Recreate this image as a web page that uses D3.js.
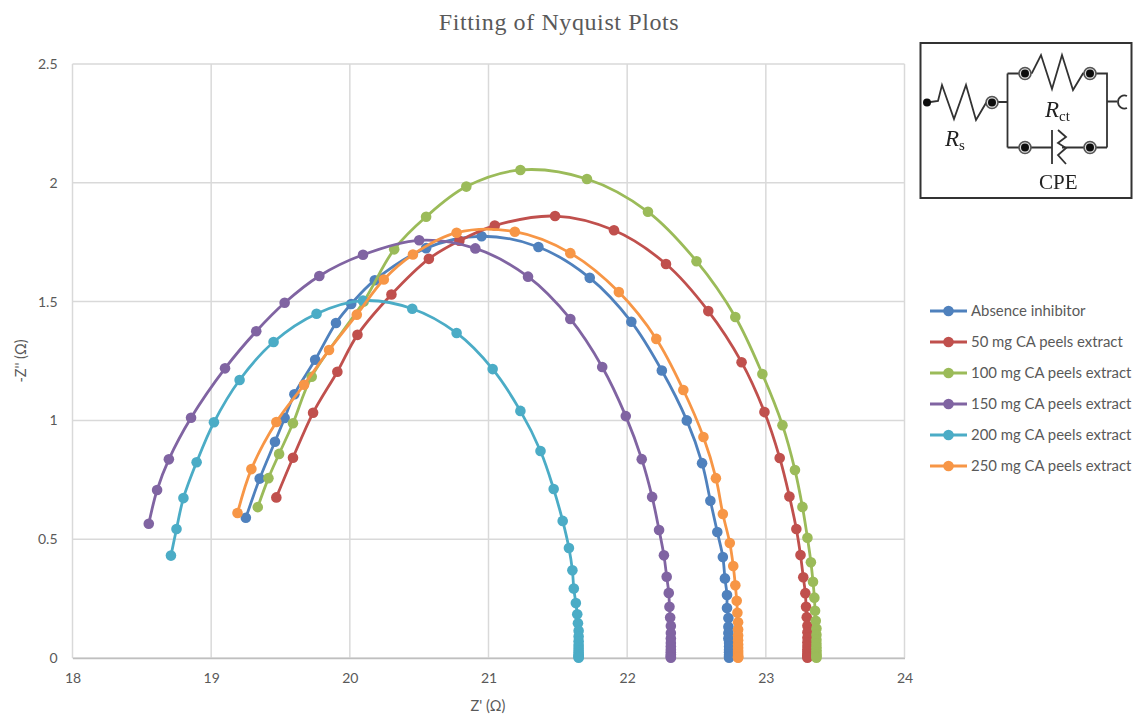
<!DOCTYPE html>
<html>
<head>
<meta charset="utf-8">
<script src="https://cdn.jsdelivr.net/npm/d3@7"></script>
<style>
	html, body { margin: 0; padding: 0; background: #fff; }
	svg { display: block; }
	text { font-family: Lato, sans-serif; fill: #595959; }
</style>
</head>
<body>
<svg id="chart" width="1133" height="715"></svg>
<script>
// values
const seriesNames = ['Absence inhibitor', '50 mg CA peels extract', '100 mg CA peels extract',
	'150 mg CA peels extract', '200 mg CA peels extract', '250 mg CA peels extract']
const seriesColors = ['#4f81bd', '#c0504d', '#9bbb59', '#8064a2', '#4bacc6', '#f79646']

const absenceX = [19.25, 19.35, 19.46, 19.53, 19.60, 19.75, 19.90, 20.01, 20.18, 20.55, 20.95, 21.36, 21.73, 22.03, 22.25, 22.43, 22.54, 22.60, 22.65, 22.69, 22.705, 22.72, 22.72, 22.73, 22.73, 22.73, 22.73, 22.735, 22.735, 22.735, 22.735, 22.735, 22.735, 22.735]
const absenceY = [0.59, 0.755, 0.91, 1.01, 1.11, 1.255, 1.41, 1.49, 1.59, 1.725, 1.775, 1.73, 1.60, 1.415, 1.21, 1.0, 0.82, 0.662, 0.53, 0.425, 0.335, 0.265, 0.21, 0.168, 0.132, 0.105, 0.082, 0.063, 0.048, 0.035, 0.024, 0.014, 0.006, 0.001]
const mg50X = [19.47, 19.59, 19.735, 19.91, 20.055, 20.30, 20.57, 20.79, 21.045, 21.48, 21.905, 22.28, 22.585, 22.825, 22.99, 23.10, 23.17, 23.22, 23.25, 23.27, 23.285, 23.29, 23.295, 23.30, 23.30, 23.30, 23.30, 23.30, 23.30, 23.30, 23.30, 23.30, 23.30, 23.30]
const mg50Y = [0.676, 0.843, 1.032, 1.205, 1.36, 1.53, 1.68, 1.756, 1.82, 1.86, 1.80, 1.658, 1.46, 1.245, 1.035, 0.842, 0.68, 0.543, 0.433, 0.34, 0.273, 0.216, 0.172, 0.136, 0.108, 0.085, 0.066, 0.05, 0.037, 0.026, 0.017, 0.01, 0.005, 0.001]
const mg100X = [19.336, 19.413, 19.49, 19.59, 19.725, 20.10, 20.32, 20.55, 20.84, 21.23, 21.71, 22.15, 22.50, 22.78, 22.975, 23.12, 23.21, 23.264, 23.30, 23.325, 23.34, 23.35, 23.355, 23.36, 23.365, 23.365, 23.365, 23.365, 23.365, 23.365, 23.365, 23.365, 23.365, 23.365]
const mg100Y = [0.635, 0.757, 0.859, 0.988, 1.184, 1.50, 1.72, 1.857, 1.984, 2.054, 2.016, 1.878, 1.67, 1.435, 1.195, 0.98, 0.791, 0.636, 0.506, 0.403, 0.321, 0.254, 0.199, 0.157, 0.124, 0.098, 0.077, 0.06, 0.045, 0.033, 0.022, 0.013, 0.006, 0.001]
const mg150X = [18.55, 18.61, 18.695, 18.855, 19.10, 19.325, 19.53, 19.78, 20.095, 20.50, 20.905, 21.285, 21.59, 21.82, 21.99, 22.105, 22.18, 22.23, 22.265, 22.285, 22.30, 22.305, 22.31, 22.315, 22.315, 22.315, 22.315, 22.315, 22.315, 22.315, 22.315, 22.315, 22.315, 22.315]
const mg150Y = [0.565, 0.707, 0.836, 1.011, 1.219, 1.375, 1.495, 1.608, 1.697, 1.758, 1.724, 1.605, 1.427, 1.225, 1.018, 0.837, 0.678, 0.539, 0.432, 0.342, 0.274, 0.216, 0.17, 0.135, 0.105, 0.082, 0.063, 0.048, 0.035, 0.024, 0.015, 0.008, 0.004, 0.001]
const mg200X = [18.71, 18.75, 18.80, 18.895, 19.02, 19.205, 19.45, 19.76, 20.095, 20.45, 20.77, 21.03, 21.23, 21.375, 21.47, 21.535, 21.58, 21.605, 21.615, 21.63, 21.64, 21.645, 21.65, 21.65, 21.65, 21.65, 21.65, 21.65, 21.65, 21.65, 21.65, 21.65, 21.65]
const mg200Y = [0.431, 0.543, 0.673, 0.824, 0.992, 1.17, 1.33, 1.449, 1.504, 1.47, 1.368, 1.216, 1.04, 0.871, 0.711, 0.577, 0.463, 0.369, 0.292, 0.231, 0.184, 0.146, 0.115, 0.09, 0.07, 0.055, 0.042, 0.031, 0.022, 0.014, 0.008, 0.004, 0.001]
const mg250X = [19.19, 19.29, 19.47, 19.67, 19.85, 20.05, 20.245, 20.455, 20.77, 21.19, 21.59, 21.94, 22.21, 22.405, 22.55, 22.64, 22.69, 22.74, 22.765, 22.78, 22.79, 22.795, 22.80, 22.80, 22.80, 22.80, 22.80, 22.80, 22.80, 22.80, 22.80, 22.80, 22.80, 22.80]
const mg250Y = [0.61, 0.795, 0.993, 1.15, 1.296, 1.445, 1.593, 1.698, 1.79, 1.794, 1.704, 1.54, 1.343, 1.128, 0.93, 0.757, 0.606, 0.484, 0.387, 0.306, 0.241, 0.19, 0.15, 0.12, 0.095, 0.075, 0.057, 0.043, 0.031, 0.021, 0.013, 0.007, 0.003, 0.001]

const xTicks = [18, 19, 20, 21, 22, 23, 24]
const yTicks = [0, 0.5, 1, 1.5, 2, 2.5]

const allX = [absenceX, mg50X, mg100X, mg150X, mg200X, mg250X]
const allY = [absenceY, mg50Y, mg100Y, mg150Y, mg200Y, mg250Y]
const series = seriesNames.map((name, i) => ({
	name,
	color: seriesColors[i],
	points: allX[i].map((x, j) => [x, allY[i][j]])
}))

const svg = d3.select('#chart')

// the inset in the reference is a soft raster, this gives the same look
svg.append('defs').append('filter').attr('id', 'soft')
	.append('feGaussianBlur').attr('stdDeviation', 0.45)

const scX = d3.scaleLinear().domain([18, 24]).range([72.5, 904.5])
const scY = d3.scaleLinear().domain([0, 2.5]).range([658, 64])

// title
svg.append('text')
	.text('Fitting of Nyquist Plots')
	.attr('x', 559).attr('y', 30)
	.attr('text-anchor', 'middle')
	.style('font-family', '"Liberation Serif", serif')
	.style('font-size', '24px')
	.style('letter-spacing', '0.6px')

// grid
svg.append('g').selectAll('line').data(xTicks).enter().append('line')
	.attr('x1', d => scX(d)).attr('x2', d => scX(d))
	.attr('y1', scY(2.5)).attr('y2', scY(0))
	.attr('stroke', '#d9d9d9').attr('stroke-width', 1.5)
svg.append('g').selectAll('line').data(yTicks).enter().append('line')
	.attr('x1', scX(18)).attr('x2', scX(24))
	.attr('y1', d => scY(d)).attr('y2', d => scY(d))
	.attr('stroke', '#d9d9d9').attr('stroke-width', 1.5)

// axes, only the labels are kept
let axX = svg.append('g')
	.attr('transform', `translate(0, ${scY(0)})`)
	.call(d3.axisBottom(scX).tickValues(xTicks).tickFormat(d3.format('d')).tickSize(0).tickPadding(15))
let axY = svg.append('g')
	.attr('transform', `translate(${scX(18)}, 0)`)
	.call(d3.axisLeft(scY).tickValues(yTicks).tickFormat(d => `${d}`).tickSize(0).tickPadding(15))
axX.select('.domain').attr('stroke', '#bfbfbf').attr('stroke-width', 1.5)
axY.select('.domain').remove()
svg.selectAll('.tick text').style('font-family', 'Lato, sans-serif').style('font-size', '14px').attr('fill', '#595959')

svg.append('text').text("Z' (Ω)")
	.attr('x', 488).attr('y', 711)
	.attr('text-anchor', 'middle')
	.style('font-size', '14.5px')
svg.append('text').text("-Z'' (Ω)")
	.attr('transform', 'translate(26, 361) rotate(-90)')
	.attr('text-anchor', 'middle')
	.style('font-size', '14.5px')

// series, smoothed like the spreadsheet lines
let lineMkr = d3.line()
	.x(d => scX(d[0]))
	.y(d => scY(d[1]))
	.curve(d3.curveCatmullRom.alpha(0.5))

let groups = svg.append('g').selectAll('g').data(series).enter().append('g')
groups.append('path')
	.attr('d', d => lineMkr(d.points))
	.attr('fill', 'none')
	.attr('stroke', d => d.color)
	.attr('stroke-width', 2.8)
groups.selectAll('circle').data(d => d.points.map(p => ({ p, color: d.color }))).enter().append('circle')
	.attr('cx', d => scX(d.p[0]))
	.attr('cy', d => scY(d.p[1]))
	.attr('r', 5.3)
	.attr('fill', d => d.color)

// legend
let legend = svg.append('g').selectAll('g').data(series).enter().append('g')
	.attr('transform', (d, i) => `translate(930, ${311 + i * 31})`)
legend.append('line')
	.attr('x1', 0).attr('x2', 37)
	.attr('stroke', d => d.color).attr('stroke-width', 2.8)
legend.append('circle')
	.attr('cx', 18.5).attr('r', 5.3)
	.attr('fill', d => d.color)
legend.append('text')
	.text(d => d.name)
	.attr('x', 41).attr('y', 5)
	.style('font-size', '14.9px')

// circuit inset
let inset = svg.append('g').attr('filter', 'url(#soft)')
inset.append('rect')
	.attr('x', 920.5).attr('y', 43).attr('width', 211).attr('height', 155)
	.attr('fill', '#fff').attr('stroke', '#333').attr('stroke-width', 2)

let wires = inset.append('g').attr('fill', 'none').attr('stroke', '#333').attr('stroke-width', 1.8)
const wirePaths = [
	'M927,102.5 L938,101 L942,85 L954,119 L966,85 L976,120 L986,103 L992,103',
	'M992,102 L1007.5,102 M1007.5,73.5 L1007.5,147.5',
	'M1007.5,73.5 L1025,73.5 L1032,73 L1041,55 L1052,89 L1062,55 L1073,90 L1083,73.5 L1107,73.5 L1107,147.5',
	'M1007.5,147.5 L1052,147.5 M1052,130 L1052,164',
	'M1058,130 L1066,137 L1058,143 L1066,148 L1058,155 L1066,164',
	'M1062,147.5 L1107,147.5',
	'M1107,101.5 L1117,101.5 M1127,96 A6.5,6.5 0 1 0 1127,108'
]
wires.selectAll('path').data(wirePaths).enter().append('path').attr('d', d => d)

const terminals = [[992, 102.5], [1025, 73.5], [1090, 73.5], [1025, 147.5], [1090, 147.5]]
inset.selectAll('.ring').data(terminals).enter().append('circle').attr('class', 'ring')
	.attr('cx', d => d[0]).attr('cy', d => d[1]).attr('r', 6)
	.attr('fill', '#ddd').attr('stroke', '#555').attr('stroke-width', 1.6)
inset.selectAll('.dot').data(terminals.concat([[927, 102.5]])).enter().append('circle').attr('class', 'dot')
	.attr('cx', d => d[0]).attr('cy', d => d[1]).attr('r', 4)
	.attr('fill', '#111')

const serif = '"Liberation Serif", serif'
function insetLabel(x, y, main, sub) {
	let t = inset.append('text').attr('x', x).attr('y', y)
		.style('font-family', serif).style('font-size', sub ? '23px' : '21px').style('fill', '#222')
	t.append('tspan').text(main).style('font-style', sub ? 'italic' : 'normal')
	if (sub) t.append('tspan').text(sub).attr('dy', 4).style('font-size', '15px')
}
insetLabel(945, 146, 'R', 's')
insetLabel(1045, 117, 'R', 'ct')
insetLabel(1039, 189, 'CPE')
</script>
</body>
</html>
